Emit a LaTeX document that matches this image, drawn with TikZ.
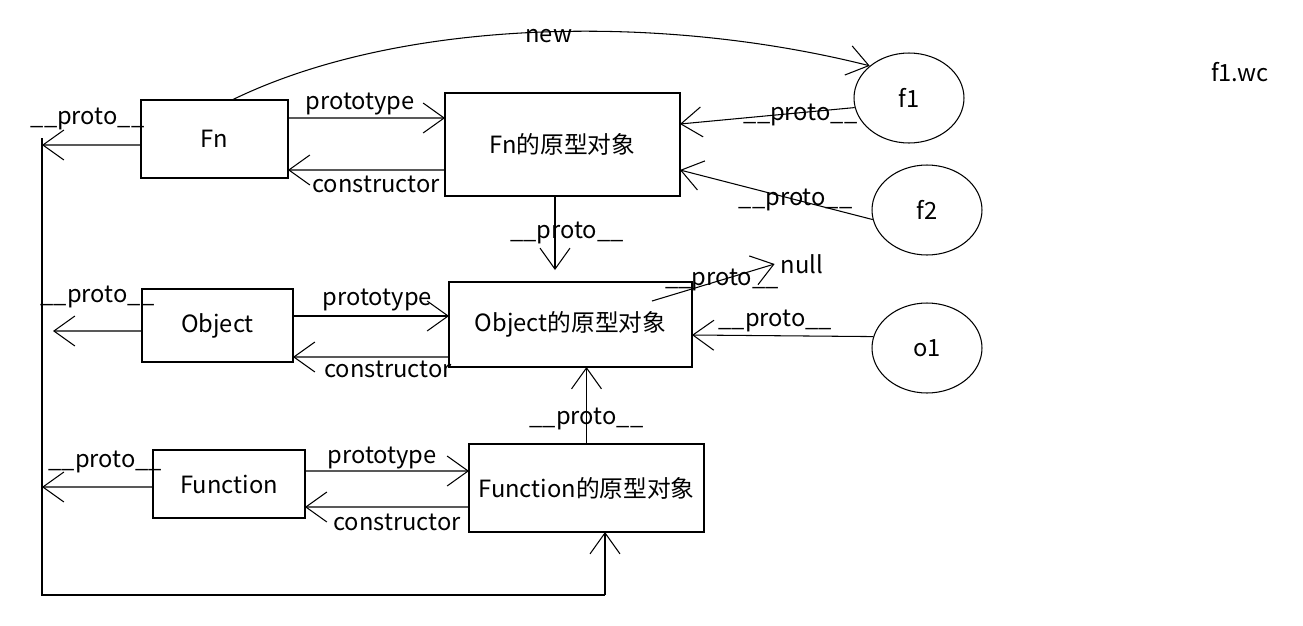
\documentclass[tikz,border=0pt]{standalone}
\usepackage{fontspec}
\setmainfont{Noto Sans CJK SC}
\usetikzlibrary{arrows.meta,positioning,shapes.geometric}
\tikzset{
  box/.style={draw, line width=0.6pt, inner sep=0pt, outer sep=0pt},
  obj/.style={ellipse, draw, line width=0.6pt, inner sep=0pt, minimum width=2.2cm, minimum height=1.8cm},
  line/.style={line width=0.6pt},
  link/.style={line, -{Straight Barb[length=0.42cm,width=0.6cm]}},
  lbl/.style={inner sep=1pt}
}

\begin{document}
\begin{tikzpicture}[x=0.02cm, y=-0.02cm, font=\fontsize{13.5}{16}\selectfont]
  \useasboundingbox (0,0) rectangle (1303,626);

  % constructors and their prototype objects
  \node[box, minimum width=2.94cm, minimum height=1.56cm] (fn) at (214.5,139) {Fn};
  \node[box, minimum width=4.70cm, minimum height=2.06cm] (fnp) at (562.5,144.5) {Fn的原型对象};
  \node[box, minimum width=3.02cm, minimum height=1.46cm] (object) at (217.5,325.5) {Object};
  \node[box, minimum width=4.86cm, minimum height=1.70cm] (objp) at (570.5,324.5) {Object的原型对象};
  \node[box, minimum width=3.04cm, minimum height=1.36cm] (function) at (229,484) {Function};
  \node[box, minimum width=4.70cm, minimum height=1.76cm] (funcp) at (586.5,488) {Function的原型对象};

  % instances
  \node[obj] (f1) at (909,98) {f1};
  \node[obj] (f2) at (927,210) {f2};
  \node[obj] (o1) at (927,348) {o1};
  \node (null) at (802,264) {null};
  \node (wc) at (1240,72) {f1.wc};

  % free ends on the left and the bottom loop
  \coordinate (lt) at (42,138);
  \coordinate (fnl) at (42,145);
  \coordinate (objl) at (53,331);
  \coordinate (funcl) at (42,487);
  \coordinate (bl) at (42,595);
  \coordinate (br) at (605,595);
  \coordinate (fpb) at ([xshift=-0.15cm]fnp.south);

  % prototype / constructor
  \draw[link] ([yshift=0.42cm]fn.east) -- ([yshift=0.53cm]fnp.west) node[lbl, pos=0.46, above=0.02cm] {prototype};
  \draw[link] ([yshift=-0.51cm]fnp.west) -- ([yshift=-0.62cm]fn.east) node[lbl, pos=0.44, below=0.08cm] {constructor};
  \draw[link] ([yshift=0.19cm]object.east) -- ([yshift=0.17cm]objp.west) node[lbl, pos=0.54, above=0.06cm] {prototype};
  \draw[link] ([yshift=-0.65cm]objp.west) -- ([yshift=-0.63cm]object.east) node[lbl, pos=0.39, below=0.04cm] {constructor};
  \draw[link] ([yshift=0.26cm]function.east) -- ([yshift=0.34cm]funcp.west) node[lbl, pos=0.47, above=0cm] {prototype};
  \draw[link] ([yshift=-0.38cm]funcp.west) -- ([yshift=-0.46cm]function.east) node[lbl, pos=0.44, below=0.1cm] {constructor};

  % __proto__ chains
  \draw[link] ([yshift=-0.12cm]fn.west) -- (fnl) node[lbl, pos=0.54, above=0.25cm] {\_\_proto\_\_};
  \draw[link] ([yshift=-0.11cm]object.west) -- (objl) node[lbl, pos=0.5, above=0.41cm] {\_\_proto\_\_};
  \draw[link] ([yshift=-0.06cm]function.west) -- (funcl) node[lbl, pos=0.43, above=0.23cm] {\_\_proto\_\_};
  \draw[line] (lt) -- (bl) -- (br);
  \draw[link] (br) -- (br |- funcp.south);
  \draw[link, shorten >=0.24cm] (fpb) -- (fpb |- objp.north) node[lbl, pos=0.43, xshift=0.24cm] {\_\_proto\_\_};
  \draw[link] (funcp.north) -- (funcp.north |- objp.south) node[lbl, pos=0.32] {\_\_proto\_\_};
  \draw[link] (f1.190) -- ([yshift=0.41cm]fnp.east) node[lbl, pos=0.31, yshift=-0.05cm] {\_\_proto\_\_};
  \draw[link] (f2.190) -- ([yshift=-0.51cm]fnp.east) node[lbl, pos=0.4] {\_\_proto\_\_};
  \draw[link] (o1.168) -- ([yshift=-0.21cm]objp.east) node[lbl, pos=0.54, above=0.04cm] {\_\_proto\_\_};
  \draw[link] ([xshift=1.63cm, yshift=0.47cm]objp.center) -- (null.west) node[lbl, pos=0.57] {\_\_proto\_\_};

  % new
  \draw[link] ([xshift=0.35cm]fn.north) .. controls (400,18) and (660,13) .. (f1.north west) node[lbl, pos=0.52, yshift=-0.08cm] {new};
\end{tikzpicture}
\end{document}
